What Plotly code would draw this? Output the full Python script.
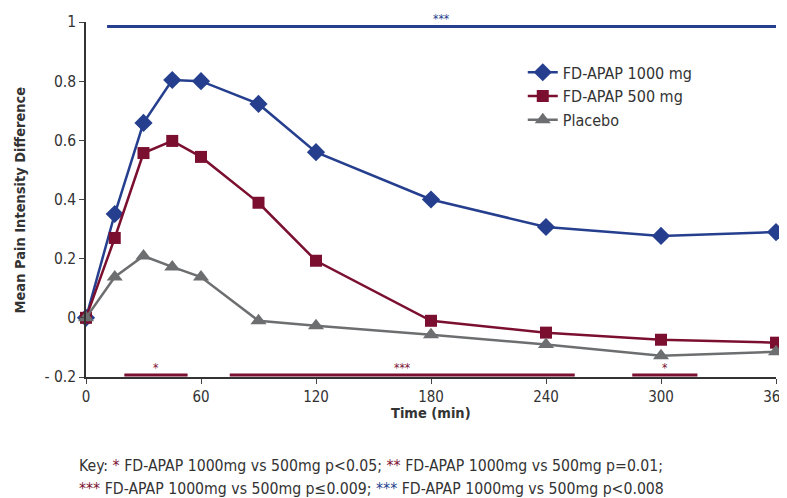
import plotly.graph_objects as go

time_min = [0, 15, 30, 45, 60, 90, 120, 180, 240, 300, 360]
fd_1000 = [0.0, 0.351, 0.659, 0.804, 0.80, 0.723, 0.56, 0.40, 0.307, 0.277, 0.29]
fd_500 = [0.0, 0.27, 0.557, 0.598, 0.544, 0.389, 0.193, -0.01, -0.05, -0.074, -0.084]
placebo = [0.0, 0.138, 0.209, 0.172, 0.138, -0.01, -0.027, -0.057, -0.09, -0.128, -0.115]

series_names = ["FD-APAP 1000 mg", "FD-APAP 500 mg", "Placebo"]
series_colors = ["#253f8e", "#7b0f2f", "#6d6e70"]
series_symbols = ["diamond", "square", "triangle-up"]
series_sizes = [14, 12, 14]

# significance bars: (start, end, level, label)
blue_sig = [(11, 360, 0.985, "***")]
red_sig = [(20, 53, -0.193, "*"), (75, 255, -0.193, "***"), (285, 319, -0.193, "*")]

x_ticks = [0, 60, 120, 180, 240, 300, 360]
y_ticks = [-0.2, 0, 0.2, 0.4, 0.6, 0.8, 1]
y_tick_text = ["- 0.2", "0", "0.2", "0.4", "0.6", "0.8", "1"]

FONT = "DejaVu Sans Condensed, Liberation Sans Narrow, Arial Narrow, Liberation Sans, sans-serif"
TXT = "#333333"

fig = go.Figure()
for ys, name, col, sym, sz in zip([fd_1000, fd_500, placebo], series_names,
                                  series_colors, series_symbols, series_sizes):
    fig.add_trace(go.Scatter(
        x=time_min, y=ys, name=name, mode="lines+markers",
        line=dict(color=col, width=2.5),
        marker=dict(symbol=sym, size=sz, color=col),
        cliponaxis=False,
    ))

annotations = []
for (x0, x1, lvl, lab), col in [(b, series_colors[0]) for b in blue_sig] + [(b, series_colors[1]) for b in red_sig]:
    fig.add_trace(go.Scatter(x=[x0, x1], y=[lvl, lvl], mode="lines",
                             line=dict(color=col, width=3), showlegend=False,
                             hoverinfo="skip", cliponaxis=False))
    annotations.append(dict(x=(x0 + x1) / 2, y=lvl, text=lab, showarrow=False,
                            yanchor="bottom", yshift=-2,
                            font=dict(family=FONT, size=12, color=col)))

R = series_colors[1]
B = series_colors[0]
key1 = (f"Key: <span style='color:{R}'>*</span> FD-APAP 1000mg vs 500mg p&lt;0.05; "
        f"<span style='color:{R}'>**</span> FD-APAP 1000mg vs 500mg p=0.01;")
key2 = (f"<span style='color:{R}'>***</span> FD-APAP 1000mg vs 500mg p≤0.009; "
        f"<span style='color:{B}'>***</span> FD-APAP 1000mg vs 500mg p&lt;0.008")
annotations.append(dict(xref="paper", yref="paper", x=-0.013, y=-0.2507, xanchor="left",
                        yanchor="middle", text=key1, showarrow=False,
                        font=dict(family=FONT, size=15.7, color=TXT)))
annotations.append(dict(xref="paper", yref="paper", x=-0.013, y=-0.313, xanchor="left",
                        yanchor="middle", text=key2, showarrow=False,
                        font=dict(family=FONT, size=15.7, color=TXT)))
# axis titles
annotations.append(dict(xref="paper", yref="paper", x=-0.0957, y=0.5, textangle=-90,
                        xanchor="center", yanchor="middle", showarrow=False,
                        text="<b>Mean Pain Intensity Difference</b>",
                        font=dict(family=FONT, size=14.5, color=TXT)))
annotations.append(dict(xref="paper", yref="paper", x=0.5, y=-0.102,
                        xanchor="center", yanchor="middle", showarrow=False,
                        text="<b>Time (min)</b>",
                        font=dict(family=FONT, size=14.5, color=TXT)))

# the page adds an 8px body margin: the figure is sized and offset to compensate
fig.update_layout(
    width=779, height=490,
    margin=dict(l=78, r=11, t=14, b=121),
    paper_bgcolor="white", plot_bgcolor="white",
    font=dict(family=FONT, size=15, color=TXT),
    showlegend=True,
    legend=dict(x=0.633, y=0.906, xanchor="left", yanchor="top",
                bgcolor="rgba(0,0,0,0)", font=dict(family=FONT, size=16, color=TXT),
                itemwidth=30, tracegroupgap=0),
    annotations=annotations,
    xaxis=dict(range=[0, 360], tickvals=x_ticks, ticks="outside", ticklen=5,
               automargin=False, ticklabeloverflow="allow",
               showline=True, linecolor="#333333", linewidth=1.5, showgrid=False,
               zeroline=False, tickfont=dict(family=FONT, size=15, color=TXT)),
    yaxis=dict(range=[-0.2, 1.0], tickvals=y_ticks, ticktext=y_tick_text,
               ticks="outside", ticklen=5, automargin=False,
               showline=True, linecolor="#333333", linewidth=1.5, showgrid=False,
               zeroline=False, tickfont=dict(family=FONT, size=15.5, color=TXT)),
)

fig.write_html("out.html")
